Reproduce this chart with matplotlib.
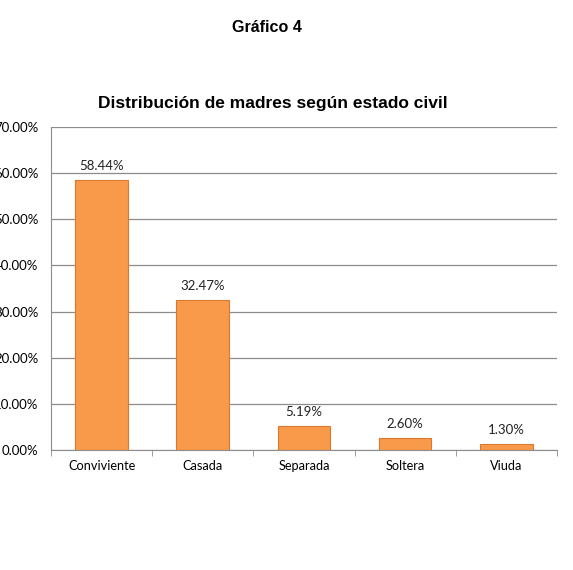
import numpy as np
import matplotlib.pyplot as plt
from matplotlib.ticker import FuncFormatter

categories = ["Conviviente", "Casada", "Separada", "Soltera", "Viuda"]
values = [58.44, 32.47, 5.19, 2.60, 1.30]
value_labels = ["58.44%", "32.47%", "5.19%", "2.60%", "1.30%"]
y_ticks = [0, 10, 20, 30, 40, 50, 60, 70]

fig = plt.figure(figsize=(5.73, 5.70), dpi=100)
ax = fig.add_axes([0.089, 0.2105, 0.883, 0.5667])

x = np.arange(len(categories))
ax.bar(x, values, width=0.52, color="#F99A4A", edgecolor="#D9782F",
       linewidth=0.8, zorder=3)

for xi, v, lbl in zip(x, values, value_labels):
    ax.annotate(lbl, (xi, v), xytext=(0, 6), textcoords="offset points",
                ha="center", va="bottom", fontsize=9.5, family="Lato",
                color="#222222")

ax.set_xlim(-0.5, len(categories) - 0.5)
ax.set_ylim(0, 70)
ax.set_yticks(y_ticks)
ax.yaxis.set_major_formatter(FuncFormatter(lambda v, p: f"{v:.2f}%"))
ax.yaxis.grid(True, color="#8c8c8c", linewidth=0.9, zorder=0)
ax.tick_params(axis="y", length=0, pad=9, labelsize=9.5)
for lbl in ax.get_yticklabels():
    lbl.set_family("Lato")

# category labels, tick marks between categories
ax.set_xticks(x)
ax.set_xticklabels(categories, fontsize=9.2, family="Lato")
ax.tick_params(axis="x", length=0, pad=7)
ax.set_xticks(np.arange(-0.5, len(categories)), minor=True)
ax.tick_params(axis="x", which="minor", length=4, color="#8c8c8c", direction="out")

for side in ["top", "right"]:
    ax.spines[side].set_visible(False)
ax.spines["left"].set_color("#8c8c8c")
ax.spines["bottom"].set_color("#8c8c8c")

fig.text(0.465, 0.952, "Gráfico 4", ha="center", va="center",
         fontsize=11.6, fontweight="bold", family="Liberation Sans")
fig.text(0.476, 0.819, "Distribución de madres según estado civil", ha="center",
         va="center", fontsize=12.5, fontweight="bold", family="Liberation Sans")

fig.savefig("out.png", dpi=100)
